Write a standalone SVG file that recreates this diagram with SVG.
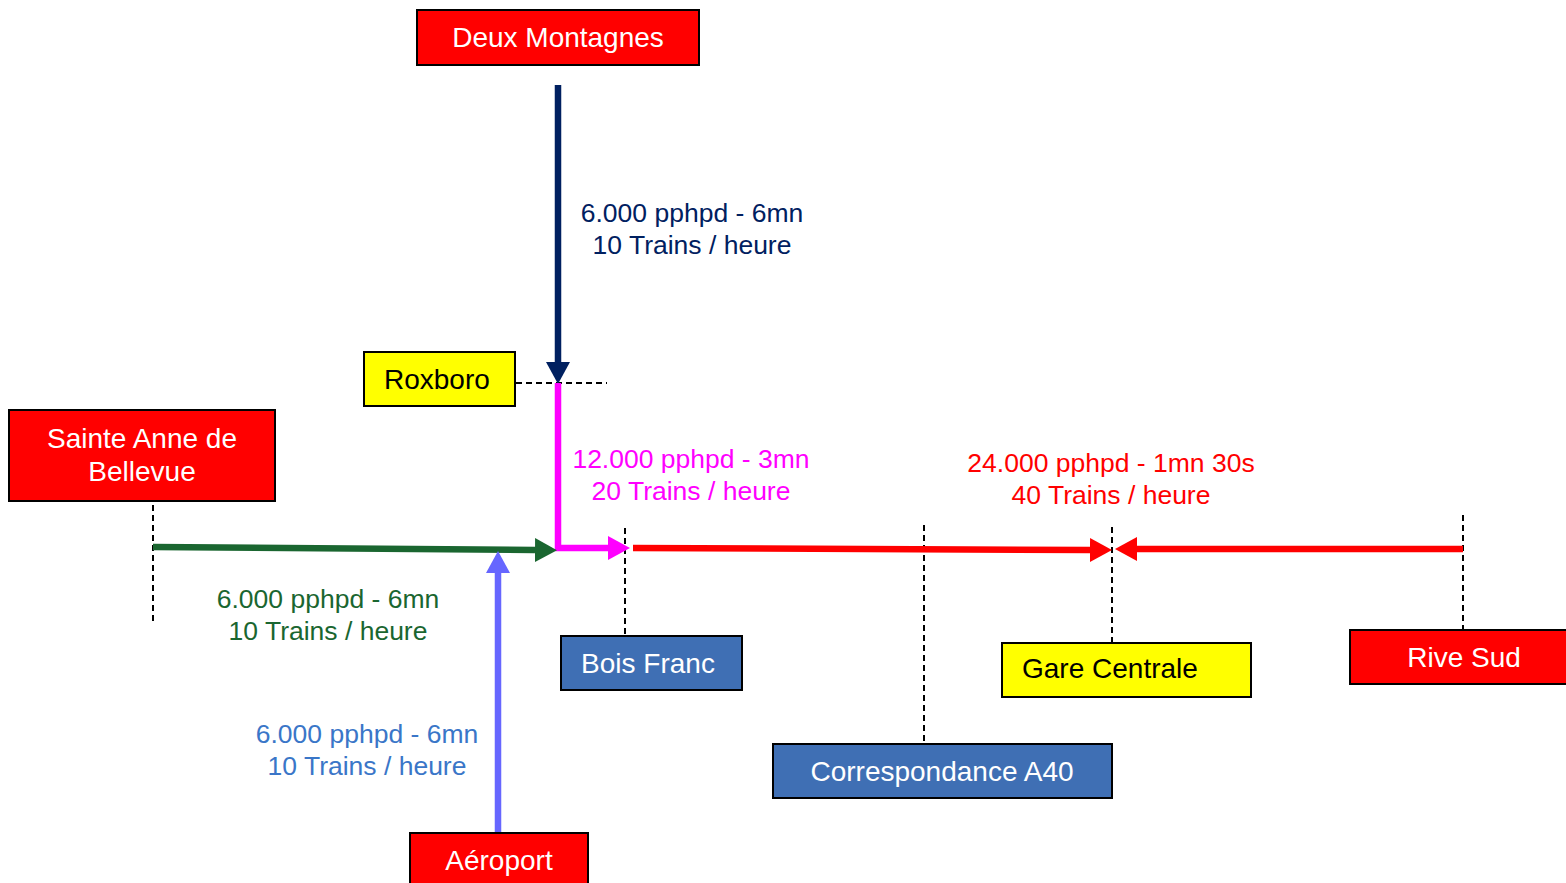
<svg xmlns="http://www.w3.org/2000/svg" width="1566" height="883" viewBox="0 0 1566 883">
<style>
text{font-family:"Liberation Sans",Arial,sans-serif;font-size:28px}
.box{stroke:#000;stroke-width:2}
.red{fill:#ff0000}
.yel{fill:#ffff00}
.blu{fill:#3f6fb4}
.wt{fill:#fff;text-anchor:middle}
.bt{fill:#000}
.dash{stroke:#000;stroke-width:2;stroke-dasharray:6,4;fill:none}
.ln{fill:none;stroke-width:6.5}
.lbl text{text-anchor:middle;font-size:26.5px}
</style>
<defs>
<marker id="aNavy" viewBox="0 0 22 24" refX="0" refY="12" markerWidth="22" markerHeight="24" markerUnits="userSpaceOnUse" orient="auto"><path d="M0,0 L22,12 L0,24 z" fill="#002060"/></marker>
<marker id="aMag" viewBox="0 0 22 24" refX="0" refY="12" markerWidth="22" markerHeight="24" markerUnits="userSpaceOnUse" orient="auto"><path d="M0,0 L22,12 L0,24 z" fill="#ff00ff"/></marker>
<marker id="aGreen" viewBox="0 0 22 24" refX="0" refY="12" markerWidth="22" markerHeight="24" markerUnits="userSpaceOnUse" orient="auto"><path d="M0,0 L22,12 L0,24 z" fill="#1a6630"/></marker>
<marker id="aViolet" viewBox="0 0 22 24" refX="0" refY="12" markerWidth="22" markerHeight="24" markerUnits="userSpaceOnUse" orient="auto"><path d="M0,0 L22,12 L0,24 z" fill="#6666ff"/></marker>
<marker id="aRed" viewBox="0 0 22 24" refX="0" refY="12" markerWidth="22" markerHeight="24" markerUnits="userSpaceOnUse" orient="auto"><path d="M0,0 L22,12 L0,24 z" fill="#ff0000"/></marker>
</defs>
<rect width="1566" height="883" fill="#fff"/>

<g id="connectors">
<line class="dash" x1="153" y1="505" x2="153" y2="622"/>
<line class="dash" x1="625" y1="528" x2="625" y2="642"/>
<line class="dash" x1="924" y1="525" x2="924" y2="744"/>
<line class="dash" x1="1112" y1="527" x2="1112" y2="643"/>
<line class="dash" x1="1463" y1="515" x2="1463" y2="630"/>
<line class="dash" x1="506" y1="383" x2="607" y2="383"/>
<line x1="497" y1="380" x2="514" y2="380" stroke="#8ea9c8" stroke-width="1.5"/>
<path class="ln" d="M558,85 V362" stroke="#002060" marker-end="url(#aNavy)"/>
<path class="ln" d="M558,383 V548 H608" stroke="#ff00ff" stroke-linejoin="miter" marker-end="url(#aMag)"/>
<path class="ln" d="M153,547 L535,550" stroke="#1a6630" stroke-width="7" marker-end="url(#aGreen)"/>
<path class="ln" d="M498,832 V573" stroke="#6666ff" marker-end="url(#aViolet)"/>
<path class="ln" d="M633,548 L1090,550" stroke="#ff0000" stroke-width="7" marker-end="url(#aRed)"/>
<path class="ln" d="M1463,549 L1137,549" stroke="#ff0000" stroke-width="7" marker-end="url(#aRed)"/>
<g class="lbl">
<text x="692" y="222" fill="#002060">6.000 pphpd - 6mn</text>
<text x="692" y="254" fill="#002060">10 Trains / heure</text>
<text x="691" y="468" fill="#ff00ff">12.000 pphpd - 3mn</text>
<text x="691" y="500" fill="#ff00ff">20 Trains / heure</text>
<text x="1111" y="472" fill="#ff0000">24.000 pphpd - 1mn 30s</text>
<text x="1111" y="504" fill="#ff0000">40 Trains / heure</text>
<text x="328" y="608" fill="#1a6630">6.000 pphpd - 6mn</text>
<text x="328" y="640" fill="#1a6630">10 Trains / heure</text>
<text x="367" y="743" fill="#3a76c8">6.000 pphpd - 6mn</text>
<text x="367" y="775" fill="#3a76c8">10 Trains / heure</text>
</g>
</g>

<g id="deux-montagnes">
<rect class="box red" x="417" y="10" width="282" height="55"/>
<text class="wt" x="558" y="47">Deux Montagnes</text>
</g>
<g id="roxboro">
<rect class="box yel" x="364" y="352" width="151" height="54"/>
<text class="bt" x="384" y="389">Roxboro</text>
</g>
<g id="sainte-anne">
<rect class="box red" x="9" y="410" width="266" height="91"/>
<text class="wt" x="142" y="448">Sainte Anne de</text>
<text class="wt" x="142" y="481">Bellevue</text>
</g>
<g id="bois-franc">
<rect class="box blu" x="561" y="636" width="181" height="54"/>
<text class="wt" x="648" y="673">Bois Franc</text>
</g>
<g id="correspondance-a40">
<rect class="box blu" x="773" y="744" width="339" height="54"/>
<text class="wt" x="942" y="781">Correspondance A40</text>
</g>
<g id="gare-centrale">
<rect class="box yel" x="1002" y="643" width="249" height="54"/>
<text class="bt" x="1022" y="678">Gare Centrale</text>
</g>
<g id="rive-sud">
<rect class="box red" x="1350" y="630" width="220" height="54"/>
<text class="wt" x="1464" y="667">Rive Sud</text>
</g>
<g id="aeroport">
<rect class="box red" x="410" y="833" width="178" height="56"/>
<text class="wt" x="499" y="870">Aéroport</text>
</g>
</svg>
